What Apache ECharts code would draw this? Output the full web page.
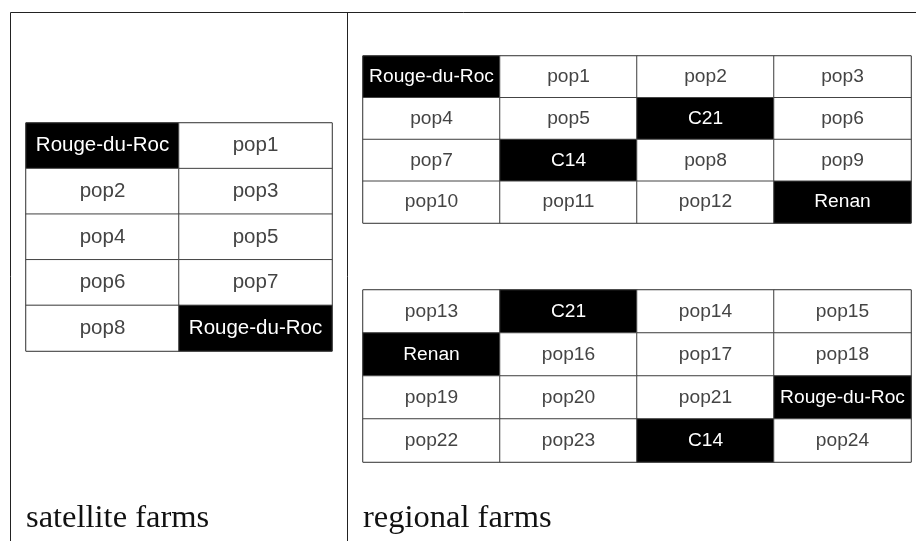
<!DOCTYPE html>
<html><head><meta charset="utf-8">
<script src="https://cdn.jsdelivr.net/npm/echarts@6/dist/echarts.min.js"></script>
<style>html,body{margin:0;padding:0;background:#fff}#c{width:916px;height:541px}</style>
</head><body><div id="c"></div>
<script>
// ---- data ----
const varieties = ['Rouge-du-Roc', 'C21', 'C14', 'Renan'];
const satelliteLabels = [
  ['Rouge-du-Roc', 'pop1'],
  ['pop2', 'pop3'],
  ['pop4', 'pop5'],
  ['pop6', 'pop7'],
  ['pop8', 'Rouge-du-Roc']
];
const regionalTopLabels = [
  ['Rouge-du-Roc', 'pop1', 'pop2', 'pop3'],
  ['pop4', 'pop5', 'C21', 'pop6'],
  ['pop7', 'C14', 'pop8', 'pop9'],
  ['pop10', 'pop11', 'pop12', 'Renan']
];
const regionalBottomLabels = [
  ['pop13', 'C21', 'pop14', 'pop15'],
  ['Renan', 'pop16', 'pop17', 'pop18'],
  ['pop19', 'pop20', 'pop21', 'Rouge-du-Roc'],
  ['pop22', 'pop23', 'C14', 'pop24']
];
const panelTitles = ['satellite farms', 'regional farms'];

// ---- build ----
const tables = [satelliteLabels, regionalTopLabels, regionalBottomLabels];
const fontSizes = [20.5, 19.2, 19.2];
const grids = [
  {left: 26, top: 123, width: 306, height: 228},
  {left: 363, top: 56, width: 548, height: 167},
  {left: 363, top: 290, width: 548, height: 172}
];
const xAxes = [], yAxes = [], series = [];
tables.forEach((tbl, i) => {
  xAxes.push({type: 'category', gridIndex: i, data: tbl[0].map((_, c) => String(c)), show: false});
  yAxes.push({type: 'category', gridIndex: i, data: tbl.map((_, r) => String(r)), inverse: true, show: false});
  const data = [];
  tbl.forEach((row, r) => row.forEach((lab, c) => {
    const v = varieties.includes(lab);
    data.push({
      value: [c, r, v ? 1 : 0], name: lab,
      itemStyle: {color: v ? '#000000' : '#ffffff', borderColor: '#444', borderWidth: 1},
      label: {color: v ? '#ffffff' : '#444444'}
    });
  }));
  series.push({
    type: 'heatmap', xAxisIndex: i, yAxisIndex: i, data,
    label: {show: true, formatter: p => p.name, fontFamily: 'Liberation Sans', fontSize: fontSizes[i]},
    emphasis: {disabled: true}
  });
});
grids.forEach(g => { g.show = true; g.borderColor = '#111'; g.borderWidth = 1; g.backgroundColor = 'transparent'; });

const chart = echarts.init(document.getElementById('c'), null, {renderer: 'canvas'});
chart.setOption({
  animation: false,
  backgroundColor: '#ffffff',
  grid: grids, xAxis: xAxes, yAxis: yAxes, series,
  graphic: [
    {type: 'line', shape: {x1: 10.5, y1: 12.5, x2: 916, y2: 12.5}, style: {stroke: '#222', lineWidth: 1}},
    {type: 'line', shape: {x1: 10.5, y1: 12.5, x2: 10.5, y2: 541}, style: {stroke: '#222', lineWidth: 1}},
    {type: 'line', shape: {x1: 347.5, y1: 12.5, x2: 347.5, y2: 541}, style: {stroke: '#222', lineWidth: 1}},
    {type: 'text', left: 26, top: 502, style: {text: panelTitles[0], font: '32.5px "Liberation Serif"', fill: '#111'}},
    {type: 'text', left: 363, top: 502, style: {text: panelTitles[1], font: '32.5px "Liberation Serif"', fill: '#111'}}
  ]
});
</script></body></html>
